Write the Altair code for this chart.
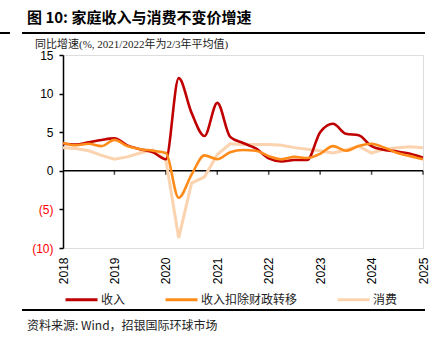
import altair as alt
import pandas as pd

# ---- data (quarterly, 2018Q1 .. 2025Q1) ----
years = [2018, 2019, 2020, 2021, 2022, 2023, 2024, 2025]
quarters = [2018 + k / 4 for k in range(29)]
series_names = ["收入", "收入扣除财政转移", "消费"]
income = [3.5, 3.4, 3.7, 4.0, 4.2, 3.3, 2.8, 2.4, 1.5, 12.0, 7.5, 4.5, 8.8, 4.4,
          3.6, 2.9, 1.6, 1.2, 1.4, 1.4, 5.0, 6.1, 4.8, 4.6, 3.2, 2.7, 2.5, 2.2, 1.7]
income_ex = [3.6, 3.3, 3.5, 3.2, 4.0, 3.2, 2.8, 2.6, 2.3, -3.5, -0.5, 2.0, 1.5, 2.4,
             2.7, 2.6, 1.9, 1.5, 1.8, 1.65, 2.2, 3.2, 2.6, 3.2, 3.5, 3.0, 2.3, 1.9, 1.5]
consumption = [3.0, 2.9, 2.6, 2.0, 1.5, 1.8, 2.3, 2.7, 1.4, -8.7, -1.6, -0.8, 2.1, 3.5,
               3.4, 3.4, 3.4, 3.3, 3.0, 2.8, 2.6, 2.3, 2.7, 3.2, 2.3, 2.8, 3.0, 3.1, 3.0]
y_ticks = [-10, -5, 0, 5, 10, 15]
colors = ["#C00000", "#FF8C1A", "#FBD3AE"]

title_txt = "图 10: 家庭收入与消费不变价增速"
subtitle_txt = "同比增速(%, 2021/2022年为2/3年平均值)"
source_txt = "资料来源: Wind，招银国际环球市场"

rows = []
for name, vals in zip(series_names, [income, income_ex, consumption]):
    for x, v in zip(quarters, vals):
        rows.append({"x": x, "y": v, "series": name})
df = pd.DataFrame(rows)

CJK = "Noto Sans CJK SC"
LAT = "Liberation Sans"

x_scale = alt.Scale(domain=[years[0], years[-1]], nice=False, zero=False)
y_scale = alt.Scale(domain=[y_ticks[0], y_ticks[-1]], nice=False, zero=False)

axis_x = alt.Axis(values=years, format="d", labelAngle=270, domain=False, ticks=False,
                  grid=False, title=None, labelFont=LAT, labelFontSize=12,
                  labelColor="#000000", labelPadding=9)
axis_y = alt.Axis(values=y_ticks, grid=False, title=None, domainColor="#000000",
                  domainWidth=1.5, tickColor="#000000", tickWidth=1.5, tickSize=4,
                  labelFont=LAT, labelFontSize=12, labelPadding=6,
                  labelExpr="datum.value < 0 ? '(' + format(-datum.value, 'd') + ')' : format(datum.value, 'd')",
                  labelColor={"condition": {"test": "datum.value < 0", "value": "#FF0000"},
                              "value": "#000000"})

x_enc = alt.X("x:Q", scale=x_scale, axis=axis_x)
y_enc = alt.Y("y:Q", scale=y_scale, axis=axis_y)

color_enc = alt.Color(
    "series:N",
    scale=alt.Scale(domain=series_names, range=colors),
    sort=series_names,
    legend=alt.Legend(orient="none", legendX=1, legendY=227, direction="horizontal",
                      title=None, symbolType="stroke", symbolSize=1024,
                      symbolStrokeWidth=3, labelFont=CJK, labelFontSize=12,
                      labelOffset=2, columnPadding=33, labelColor="#222222"),
)

base = alt.Chart(df)

smooth = base.transform_filter(alt.datum.series != series_names[2]).mark_line(
    interpolate="monotone", strokeWidth=2.6).encode(
    x=x_enc, y=y_enc, color=color_enc, order=alt.Order("x:Q"))
straight = base.transform_filter(alt.datum.series == series_names[2]).mark_line(
    strokeWidth=3).encode(x=x_enc, y=y_enc, color=color_enc, order=alt.Order("x:Q"))

zero_df = pd.DataFrame({"x": [years[0]], "x2": [years[-1]], "y": [0]})
zero_line = alt.Chart(zero_df).mark_rule(color="#000000", strokeWidth=1.5).encode(
    x=x_enc, x2="x2:Q", y=y_enc)

tick_df = pd.DataFrame({"x": years[1:], "y": [0] * (len(years) - 1)})
year_ticks = alt.Chart(tick_df).mark_tick(
    orient="vertical", size=4, thickness=1.5, yOffset=2, color="#000000").encode(
    x=x_enc, y=y_enc)

one = pd.DataFrame({"t": [title_txt]})
title = alt.Chart(pd.DataFrame({"t": [title_txt]})).mark_text(
    align="left", baseline="alphabetic", font=CJK, fontSize=15, fontWeight="bold",
    color="#000000").encode(x=alt.value(-36), y=alt.value(-32), text="t:N")
subtitle = alt.Chart(pd.DataFrame({"t": [subtitle_txt]})).mark_text(
    align="left", baseline="alphabetic", font="Liberation Serif, Noto Sans CJK SC",
    fontSize=11, color="#222222").encode(x=alt.value(-28), y=alt.value(-7), text="t:N")
source = alt.Chart(pd.DataFrame({"t": [source_txt]})).mark_text(
    align="left", baseline="alphabetic", font=CJK, fontSize=12,
    color="#222222").encode(x=alt.value(-36), y=alt.value(275), text="t:N")

top_rule = alt.Chart(one).mark_rule(color="#000000", strokeWidth=2).encode(
    x=alt.value(-41), x2=alt.value(362), y=alt.value(-22))
left_frag = alt.Chart(one).mark_rule(color="#000000", strokeWidth=2).encode(
    x=alt.value(-63), x2=alt.value(-53), y=alt.value(-22))
bottom_rule = alt.Chart(one).mark_rule(color="#000000", strokeWidth=2).encode(
    x=alt.value(-41), x2=alt.value(362), y=alt.value(255))

chart = alt.layer(
    zero_line, year_ticks, straight, smooth, title, subtitle, source,
    top_rule, left_frag, bottom_rule
).properties(
    width=360, height=193,
    autosize=alt.AutoSizeParams(type="none"),
    padding={"left": 63, "top": 55, "right": 18, "bottom": 101},
).configure_view(stroke=None).configure(background="#FFFFFF")

chart.save("out.html", embed_options={"renderer": "svg", "actions": False})
